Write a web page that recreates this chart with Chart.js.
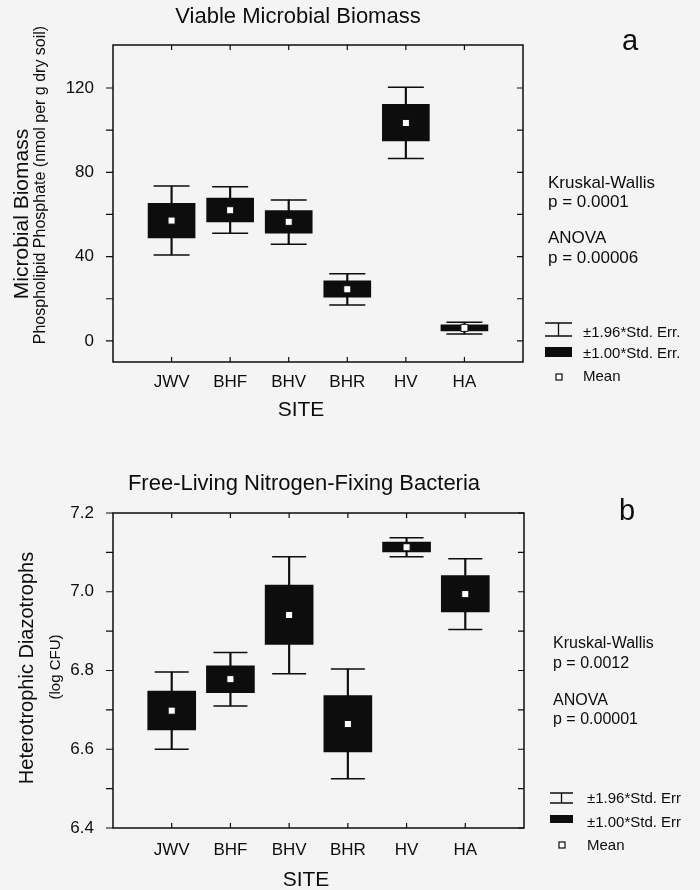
<!DOCTYPE html>
<html>
<head>
<meta charset="utf-8">
<title>Microbial biomass and diazotrophs by site</title>
<script src="https://cdn.jsdelivr.net/npm/chart.js@4.4.1/dist/chart.umd.min.js"></script>
<style>
  html, body { margin: 0; padding: 0; background: #f4f4f4; }
  #wrap { position: relative; width: 700px; height: 890px; }
  canvas { position: absolute; left: 0; }
</style>
</head>
<body>
<div id="wrap">
  <canvas id="biomass" width="700" height="445" style="top:0"></canvas>
  <canvas id="diazo" width="700" height="445" style="top:445px"></canvas>
</div>
<script>
// sites along the x axis (same for both panels)
const sites = ['JWV', 'BHF', 'BHV', 'BHR', 'HV', 'HA'];

// panel a: viable microbial biomass (nmol PLFA-P per g dry soil)
const biomassMean  = [57.1, 62.0, 56.5, 24.5, 103.4, 6.2];
const biomassSe1Lo = [48.9, 56.5, 51.1, 20.7, 94.9, 4.7];
const biomassSe1Hi = [65.3, 67.8, 61.8, 28.5, 112.3, 7.6];
const biomassSe2Lo = [40.8, 51.1, 45.9, 17.1, 86.5, 3.3];
const biomassSe2Hi = [73.5, 73.2, 66.9, 31.9, 120.3, 8.9];
const biomassTicks = [0, 20, 40, 60, 80, 100, 120];
const biomassTickLabels = [0, 40, 80, 120];

// panel b: heterotrophic diazotrophs (log CFU)
const diazoMean  = [6.698, 6.778, 6.941, 6.664, 7.113, 6.994];
const diazoSe1Lo = [6.649, 6.744, 6.866, 6.593, 7.101, 6.949];
const diazoSe1Hi = [6.748, 6.812, 7.017, 6.736, 7.126, 7.041];
const diazoSe2Lo = [6.600, 6.710, 6.792, 6.525, 7.089, 6.904];
const diazoSe2Hi = [6.796, 6.846, 7.089, 6.804, 7.137, 7.084];
const diazoTicks = [6.4, 6.5, 6.6, 6.7, 6.8, 6.9, 7.0, 7.1, 7.2];
const diazoTickLabels = [6.4, 6.6, 6.8, 7.0, 7.2];

const FONT = "'Liberation Sans', Arial, Helvetica, sans-serif";
const INK = '#0d0d0d';
Chart.defaults.font.family = FONT;
Chart.defaults.color = INK;

// plot frame + tick marks (left outward, right/top/bottom inward)
const framePlugin = {
  id: 'frame',
  afterDraw(chart) {
    const { ctx, chartArea: a, scales } = chart;
    ctx.save();
    ctx.strokeStyle = INK;
    ctx.lineWidth = 1.5;
    ctx.strokeRect(a.left, a.top, a.right - a.left, a.bottom - a.top);
    ctx.lineWidth = 1.2;
    ctx.beginPath();
    scales.y.ticks.forEach(t => {
      const y = scales.y.getPixelForValue(t.value);
      ctx.moveTo(a.left - 7, y); ctx.lineTo(a.left, y);
      ctx.moveTo(a.right - 6, y); ctx.lineTo(a.right, y);
    });
    scales.x.ticks.forEach(t => {
      const x = scales.x.getPixelForValue(t.value);
      ctx.moveTo(x, a.top); ctx.lineTo(x, a.top + 5);
      ctx.moveTo(x, a.bottom - 5); ctx.lineTo(x, a.bottom);
    });
    ctx.stroke();
    ctx.restore();
  }
};

// titles, axis titles, test results and the little key
const notesPlugin = {
  id: 'notes',
  afterDraw(chart, args, opts) {
    const ctx = chart.ctx;
    ctx.save();
    ctx.fillStyle = INK;
    (opts.texts || []).forEach(t => {
      ctx.save();
      ctx.font = `${t.size}px ${FONT}`;
      ctx.textAlign = t.align || 'left';
      ctx.textBaseline = t.rotate ? 'middle' : 'alphabetic';
      ctx.translate(t.x, t.y);
      if (t.rotate) ctx.rotate(-Math.PI / 2);
      ctx.fillText(t.text, 0, 0);
      ctx.restore();
    });

    const k = opts.key;
    if (k) {
      // whisker symbol
      ctx.strokeStyle = INK;
      ctx.lineWidth = 1.3;
      ctx.beginPath();
      ctx.moveTo(k.x, k.wTop); ctx.lineTo(k.x + k.w, k.wTop);
      ctx.moveTo(k.x, k.wBot); ctx.lineTo(k.x + k.w, k.wBot);
      ctx.moveTo(k.x + k.w / 2, k.wTop); ctx.lineTo(k.x + k.w / 2, k.wBot);
      ctx.stroke();
      // box symbol
      ctx.fillRect(k.x, k.bTop, k.w, k.bBot - k.bTop);
      // mean symbol
      ctx.fillStyle = '#fff';
      ctx.fillRect(k.mx - 3, k.my - 3, 6, 6);
      ctx.lineWidth = 1.2;
      ctx.strokeRect(k.mx - 3, k.my - 3, 6, 6);
    }
    ctx.restore();
  }
};

function boxDatasets(mean, lo1, hi1, lo2, hi2, boxWidth, capWidth) {
  const pos = sites.map((s, i) => i + 1);
  return [
    {
      type: 'scatter', label: 'Mean', order: 0,
      data: pos.map((x, i) => ({ x, y: mean[i] })),
      pointStyle: 'rect', pointRadius: 5, pointHoverRadius: 5,
      pointBackgroundColor: '#fff', pointBorderColor: INK, pointBorderWidth: 1
    },
    {
      type: 'bar', label: '±1.00*Std. Err.', order: 1,
      data: pos.map((x, i) => ({ x, y: [lo1[i], hi1[i]] })),
      backgroundColor: INK, borderWidth: 0, barThickness: boxWidth, grouped: false
    },
    {
      type: 'scatter', label: 'caps', order: 2,
      data: pos.flatMap((x, i) => [{ x, y: lo2[i] }, { x, y: hi2[i] }]),
      pointStyle: 'line', pointRadius: capWidth / 2, pointHoverRadius: capWidth / 2,
      pointBorderColor: INK, pointBorderWidth: 1.5
    },
    {
      type: 'bar', label: '±1.96*Std. Err.', order: 3,
      data: pos.map((x, i) => ({ x, y: [lo2[i], hi2[i]] })),
      backgroundColor: INK, borderWidth: 0, barThickness: 1.5, grouped: false
    }
  ];
}

function makePanel(canvasId, cfg) {
  const ctx = document.getElementById(canvasId).getContext('2d');
  return new Chart(ctx, {
    type: 'bar',
    data: { datasets: cfg.datasets },
    options: {
      responsive: false,
      animation: false,
      events: [],
      layout: { padding: cfg.padding },
      plugins: {
        legend: { display: false },
        tooltip: { enabled: false },
        notes: { texts: cfg.texts, key: cfg.key }
      },
      scales: {
        x: {
          type: 'linear', min: 0, max: 7, offset: false,
          grid: { display: false }, border: { display: false },
          afterBuildTicks: s => { s.ticks = sites.map((_, i) => ({ value: i + 1 })); },
          afterFit: s => { s.height = cfg.xHeight; },
          ticks: {
            autoSkip: false, maxRotation: 0, padding: cfg.xPad,
            font: { size: 17 }, color: INK,
            callback: v => sites[v - 1] || ''
          }
        },
        y: {
          min: cfg.yMin, max: cfg.yMax, beginAtZero: false,
          grid: { display: false }, border: { display: false },
          afterBuildTicks: s => { s.ticks = cfg.yTicks.map(v => ({ value: v })); },
          afterFit: s => { s.width = 113; },
          ticks: {
            padding: 11, font: { size: 17 }, color: INK,
            callback: v => cfg.yLabels.includes(v) ? cfg.fmt(v) : ''
          }
        }
      }
    },
    plugins: [framePlugin, notesPlugin]
  });
}

// panel a
makePanel('biomass', {
  datasets: boxDatasets(biomassMean, biomassSe1Lo, biomassSe1Hi, biomassSe2Lo, biomassSe2Hi, 47, 36),
  padding: { top: 45, right: 177, left: 0, bottom: 0 },
  xHeight: 83, xPad: 2,
  yMin: -10, yMax: 140.4,
  yTicks: biomassTicks, yLabels: biomassTickLabels, fmt: v => String(v),
  texts: [
    { text: 'Viable Microbial Biomass', x: 298, y: 23, size: 22, align: 'center' },
    { text: 'a', x: 630, y: 50, size: 29, align: 'center' },
    { text: 'Microbial Biomass', x: 22, y: 214, size: 21, align: 'center', rotate: true },
    { text: 'Phospholipid Phosphate (nmol per g dry soil)', x: 41, y: 185, size: 16, align: 'center', rotate: true },
    { text: 'SITE', x: 301, y: 416, size: 21, align: 'center' },
    { text: 'Kruskal-Wallis', x: 548, y: 188, size: 17 },
    { text: 'p = 0.0001', x: 548, y: 207, size: 17 },
    { text: 'ANOVA', x: 548, y: 243, size: 17 },
    { text: 'p = 0.00006', x: 548, y: 263, size: 17 },
    { text: '±1.96*Std. Err.', x: 583, y: 337, size: 15 },
    { text: '±1.00*Std. Err.', x: 583, y: 358, size: 15 },
    { text: 'Mean', x: 583, y: 381, size: 15 }
  ],
  key: { x: 545, w: 27, wTop: 323, wBot: 336, bTop: 347, bBot: 357, mx: 559, my: 377 }
});

// panel b
makePanel('diazo', {
  datasets: boxDatasets(diazoMean, diazoSe1Lo, diazoSe1Hi, diazoSe2Lo, diazoSe2Hi, 48, 34),
  padding: { top: 68, right: 176, left: 0, bottom: 0 },
  xHeight: 62, xPad: 4,
  yMin: 6.4, yMax: 7.2,
  yTicks: diazoTicks, yLabels: diazoTickLabels, fmt: v => v.toFixed(1),
  texts: [
    { text: 'Free-Living Nitrogen-Fixing Bacteria', x: 304, y: 45, size: 22, align: 'center' },
    { text: 'b', x: 627, y: 75, size: 29, align: 'center' },
    { text: 'Heterotrophic Diazotrophs', x: 27, y: 223, size: 20, align: 'center', rotate: true },
    { text: '(log CFU)', x: 56, y: 222, size: 15, align: 'center', rotate: true },
    { text: 'SITE', x: 306, y: 441, size: 21, align: 'center' },
    { text: 'Kruskal-Wallis', x: 553, y: 203, size: 16 },
    { text: 'p = 0.0012', x: 553, y: 223, size: 16 },
    { text: 'ANOVA', x: 553, y: 260, size: 16 },
    { text: 'p = 0.00001', x: 553, y: 279, size: 16 },
    { text: '±1.96*Std. Err', x: 587, y: 358, size: 15 },
    { text: '±1.00*Std. Err', x: 587, y: 382, size: 15 },
    { text: 'Mean', x: 587, y: 405, size: 15 }
  ],
  key: { x: 550, w: 23, wTop: 348, wBot: 358, bTop: 370, bBot: 378, mx: 562, my: 400 }
});
</script>
</body>
</html>
